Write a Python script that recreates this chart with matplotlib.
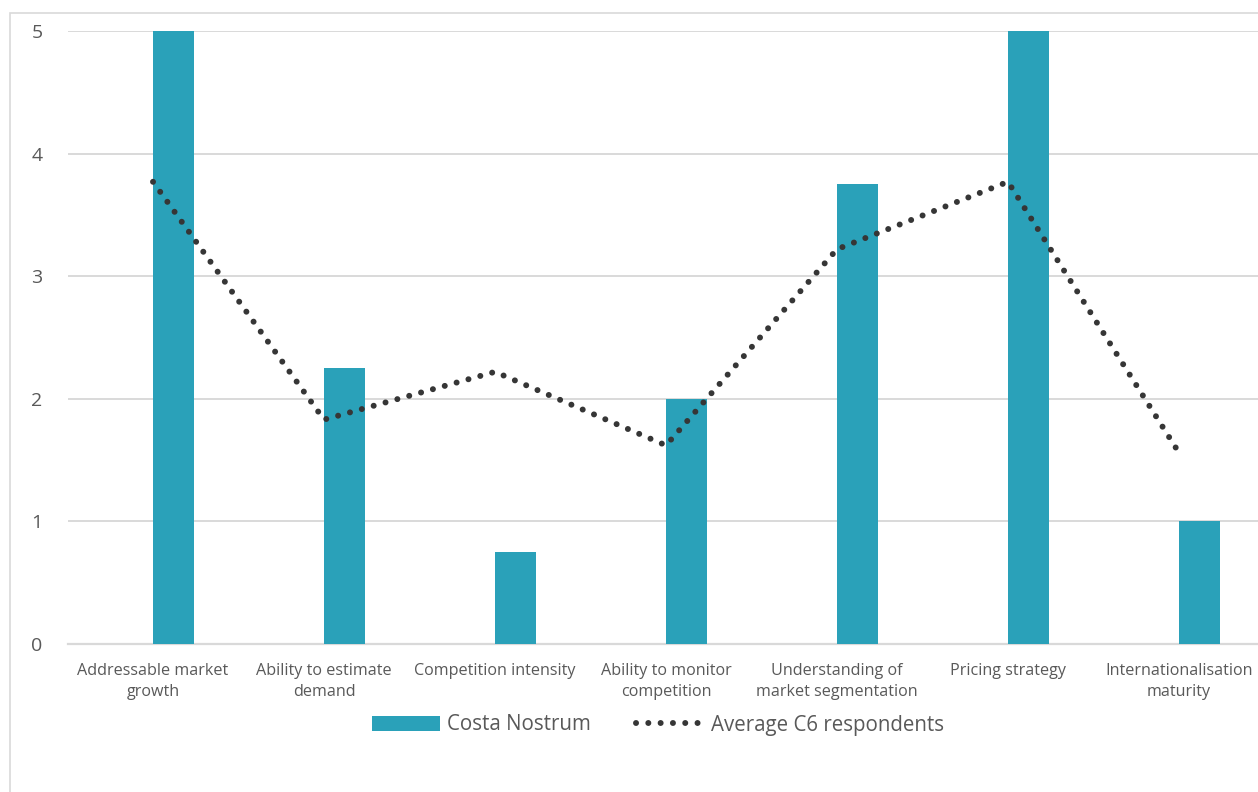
import matplotlib
matplotlib.use("Agg")
import matplotlib.pyplot as plt
import numpy as np
from matplotlib.patches import Rectangle

plt.rcParams['font.family'] = ['Open Sans', 'DejaVu Sans']

categories = [
    "Addressable market\ngrowth",
    "Ability to estimate\ndemand",
    "Competition intensity",
    "Ability to monitor\ncompetition",
    "Understanding of\nmarket segmentation",
    "Pricing strategy",
    "Internationalisation\nmaturity",
]
costa_nostrum = [5.0, 2.25, 0.75, 2.0, 3.75, 5.0, 1.0]
average_c6 = [3.77, 1.83, 2.22, 1.62, 3.22, 3.77, 1.56]
y_ticks = [0, 1, 2, 3, 4, 5]

bar_color = "#2AA1B9"
line_color = "#363636"
grid_color = "#D9D9D9"
text_color = "#595959"

W, H = 1258, 792
fig = plt.figure(figsize=(W / 100, H / 100), dpi=100)

# outer chart frame
fig.patches.append(Rectangle((10 / W, -0.05), 1.2, (H - 13) / H + 0.05,
                             transform=fig.transFigure, fill=False,
                             edgecolor="#D9D9D9", linewidth=1.2))

left, right = 67.5, 1264.5
bottom, top = 644, 31
ax = fig.add_axes([left / W, (H - bottom) / H, (right - left) / W, (bottom - top) / H])

x = np.arange(len(categories))
bar_w = 0.237
bars = ax.bar(x, costa_nostrum, width=bar_w, align="edge", color=bar_color,
              label="Costa Nostrum", zorder=3)
line, = ax.plot(x, average_c6, color=line_color, linewidth=4.3,
                linestyle=(0, (0.01, 2.05)), dash_capstyle="round",
                label="Average C6 respondents", zorder=4)

ax.set_xlim(-0.5, len(categories) - 0.5)
ax.set_ylim(0, 5)
ax.set_yticks(y_ticks)
ax.set_xticks(x)
ax.set_xticklabels(categories, fontsize=11.6, color=text_color, linespacing=1.38)
ax.tick_params(axis="y", length=0, pad=18, labelsize=14, labelcolor=text_color)
ax.tick_params(axis="x", length=0, pad=14)

ax.grid(axis="y", color=grid_color, linewidth=1.4, zorder=0)
for s in ["top", "right", "left"]:
    ax.spines[s].set_visible(False)
ax.spines["bottom"].set_color(grid_color)
ax.spines["bottom"].set_linewidth(1.6)

fig.legend(handles=[bars, line], loc="center",
           bbox_to_anchor=(658 / W, (H - 725) / H),
           ncol=2, frameon=False, fontsize=14.8, labelcolor=text_color,
           handlelength=3.3, handleheight=0.7, columnspacing=2.2,
           handletextpad=0.35)

fig.savefig("out.png", dpi=100)
